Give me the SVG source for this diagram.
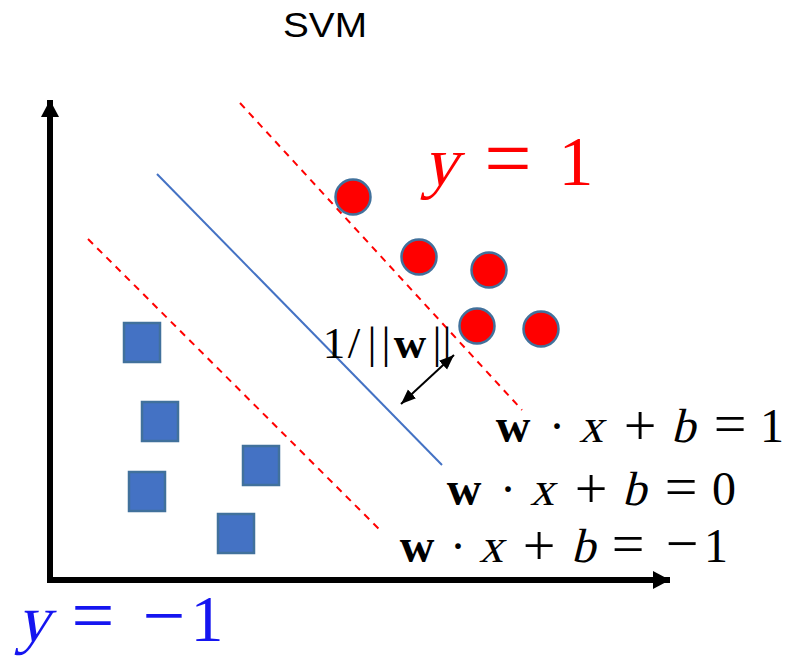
<svg xmlns="http://www.w3.org/2000/svg" width="795" height="657" viewBox="0 0 795 657">
<style>
.math{font-family:"Liberation Serif","DejaVu Serif",serif;text-anchor:middle}
.bf{font-weight:bold}
.op{font-size:58px}
.pt{fill:#FF0000;stroke:#41719C;stroke-width:2.5}
.sq{fill:#4472C4;stroke:#41719C;stroke-width:2.5}
.margin{stroke:#FF0000;stroke-width:2;stroke-dasharray:7 6;fill:none}
</style>
<defs>
<marker id="axh" markerUnits="userSpaceOnUse" markerWidth="20" markerHeight="20" refX="17" refY="9" orient="auto">
<polygon points="0,0 17,9 0,18" fill="#000"/>
</marker>
<marker id="dh" markerUnits="userSpaceOnUse" markerWidth="16" markerHeight="14" refX="15" refY="6" orient="auto-start-reverse">
<polygon points="0,0 15,6 0,12" fill="#000"/>
</marker>
</defs>
<rect width="795" height="657" fill="#fff"/>
<g id="title"><text x="325" y="37" font-family="Liberation Sans,Arial,sans-serif" font-size="35" text-anchor="middle" textLength="84" lengthAdjust="spacingAndGlyphs">SVM</text></g>
<g id="axes">
<line x1="50" y1="583" x2="50" y2="100" stroke="#000" stroke-width="6" marker-end="url(#axh)"/>
<line x1="47" y1="580" x2="670" y2="580" stroke="#000" stroke-width="6" marker-end="url(#axh)"/>
</g>
<g id="connectors">
<line class="margin" x1="240" y1="103" x2="522" y2="410"/>
<line x1="157" y1="174" x2="442" y2="465" stroke="#4472C4" stroke-width="2"/>
<line class="margin" x1="88" y1="239" x2="381" y2="531"/>
<line x1="401" y1="404" x2="454" y2="355" stroke="#000" stroke-width="2" marker-start="url(#dh)" marker-end="url(#dh)"/>
</g>
<g id="positives">
<circle class="pt" cx="353" cy="197" r="17.5"/>
<circle class="pt" cx="419" cy="257" r="17.5"/>
<circle class="pt" cx="489" cy="270" r="17.5"/>
<circle class="pt" cx="477" cy="326" r="17.5"/>
<circle class="pt" cx="541" cy="329" r="17.5"/>
</g>
<g id="negatives">
<rect class="sq" x="124" y="323" width="36" height="39"/>
<rect class="sq" x="142" y="402" width="36" height="39"/>
<rect class="sq" x="129" y="472" width="36" height="39"/>
<rect class="sq" x="243" y="446" width="36" height="39"/>
<rect class="sq" x="218" y="514" width="36" height="39"/>
</g>
<g id="label-ypos" class="math" font-size="70" fill="#FF0000">
<text transform="translate(440,185) skewX(-14)">y</text>
<text x="508" y="187" font-size="84">=</text>
<text x="576" y="185">1</text>
</g>
<g id="label-yneg" class="math" font-size="66" fill="#1515F0">
<text transform="translate(33,641) skewX(-14)">y</text>
<text x="93" y="641" font-size="76">=</text>
<text x="164" y="641" font-size="76">−</text>
<text x="207" y="641">1</text>
</g>
<g id="label-margin" class="math" font-size="45" fill="#000">
<text x="334" y="358">1</text>
<text x="354" y="358">/</text>
<text x="372" y="358">|</text>
<text x="386" y="358">|</text>
<text x="410" y="358" class="bf">w</text>
<text x="437" y="358">|</text>
<text x="447" y="358">|</text>
</g>
<g id="eq1" class="math" font-size="48" fill="#000">
<text x="513" y="442" class="bf">w</text>
<text x="557" y="442">·</text>
<text transform="translate(591,442) skewX(-14)">x</text>
<text x="640" y="445" class="op">+</text>
<text transform="translate(683,442) skewX(-14)">b</text>
<text x="730" y="443" class="op">=</text>
<text x="772" y="442">1</text>
</g>
<g id="eq0" class="math" font-size="48" fill="#000">
<text x="464" y="505" class="bf">w</text>
<text x="508" y="505">·</text>
<text transform="translate(542,505) skewX(-14)">x</text>
<text x="591" y="508" class="op">+</text>
<text transform="translate(634,505) skewX(-14)">b</text>
<text x="681" y="506" class="op">=</text>
<text x="724" y="505">0</text>
</g>
<g id="eqm1" class="math" font-size="48" fill="#000">
<text x="417" y="562" class="bf">w</text>
<text x="458" y="562">·</text>
<text transform="translate(491,562) skewX(-14)">x</text>
<text x="539" y="565" class="op">+</text>
<text transform="translate(583,562) skewX(-14)">b</text>
<text x="628" y="563" class="op">=</text>
<text x="682" y="563" class="op">−</text>
<text x="716" y="562">1</text>
</g>
</svg>
